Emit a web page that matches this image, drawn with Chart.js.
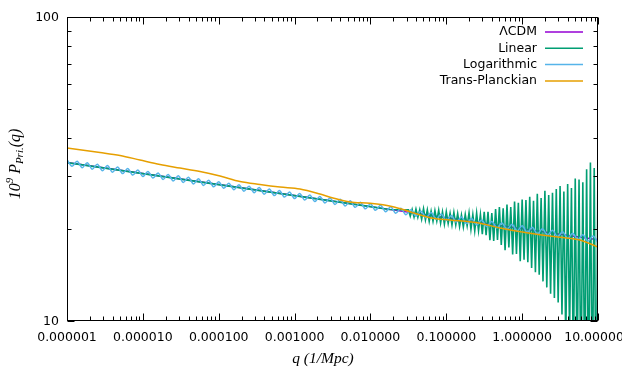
<!DOCTYPE html>
<html>
<head>
<meta charset="utf-8">
<script src="https://cdn.jsdelivr.net/npm/chart.js@4.4.0/dist/chart.umd.min.js"></script>
<style>
  html, body { margin: 0; padding: 0; background: #fff; }
  canvas { display: block; }
</style>
</head>
<body>
<canvas id="power" width="622" height="374"></canvas>
<script>
// series names / colours (gnuplot default palette)
const seriesNames = ['ΛCDM', 'Linear', 'Logarithmic', 'Trans-Planckian'];
const seriesColors = ['#9400d3', '#009e73', '#56b4e9', '#e69f00'];

// q is stored as log10(q), values are 10^9 P(q)
const lcdmQExp = [-6, -5, -4, -3, -2, -1, 0, 1];
const lcdmValues = [33.20, 30.54, 28.10, 25.85, 23.78, 21.87, 20.12, 18.51];

const linearQExp = [
  -6, -5, -4, -3, -2, -1.75,
  -1.500, -1.475, -1.450, -1.425, -1.400, -1.375, -1.350, -1.325, -1.300, -1.275,
  -1.250, -1.225, -1.200, -1.175, -1.150, -1.125, -1.100, -1.075, -1.050, -1.025,
  -1.000, -0.975, -0.950, -0.925, -0.900, -0.875, -0.850, -0.825, -0.800, -0.775,
  -0.750, -0.725, -0.700, -0.675, -0.650, -0.625, -0.600, -0.575, -0.550, -0.525,
  -0.500, -0.475, -0.450, -0.425, -0.400, -0.375, -0.350, -0.325, -0.300, -0.275,
  -0.250, -0.225, -0.200, -0.175, -0.150, -0.125, -0.100, -0.075, -0.050, -0.025,
  0.000, 0.025, 0.050, 0.075, 0.100, 0.125, 0.150, 0.175, 0.200, 0.225,
  0.250, 0.275, 0.300, 0.325, 0.350, 0.375, 0.400, 0.425, 0.450, 0.475,
  0.500, 0.525, 0.550, 0.575, 0.600, 0.625, 0.650, 0.675, 0.700, 0.725,
  0.750, 0.775, 0.800, 0.825, 0.850, 0.875, 0.900, 0.925, 0.950, 0.975,
  1.000
];
const linearValues = [
  33.20, 30.54, 28.10, 25.85, 23.78, 23.27,
  23.20, 22.13, 23.28, 21.97, 23.35, 21.92, 23.23, 21.61, 23.42, 21.50,
  23.22, 21.27, 22.97, 21.27, 23.08, 21.33, 23.14, 21.00, 22.88, 20.81,
  22.90, 20.94, 22.64, 20.69, 22.76, 20.71, 22.56, 20.46, 22.31, 20.38,
  22.43, 20.56, 22.71, 20.03, 22.40, 19.81, 22.65, 19.83, 22.41, 19.31,
  22.86, 19.15, 22.85, 18.44, 22.66, 18.32, 23.37, 18.49, 23.71, 17.80,
  23.50, 17.11, 24.14, 17.47, 23.71, 16.56, 24.74, 16.63, 24.47, 15.72,
  25.10, 15.92, 24.98, 15.60, 25.60, 14.93, 24.85, 14.47, 26.20, 14.20,
  25.40, 13.50, 26.80, 12.90, 25.96, 12.30, 26.40, 11.90, 27.20, 11.50,
  27.80, 10.50, 26.66, 8.50, 28.20, 9.00, 27.40, 7.00, 29.42, 6.50,
  29.19, 5.50, 28.60, 6.00, 31.56, 5.00, 33.23, 5.00, 31.86, 4.00,
  34.80
];

const logQExp = [
  -6.000, -5.933, -5.867, -5.800, -5.733, -5.667, -5.600, -5.533, -5.467, -5.400, -5.333, -5.267, -5.200, -5.133, -5.067,
  -5.000, -4.933, -4.867, -4.800, -4.733, -4.667, -4.600, -4.533, -4.467, -4.400, -4.333, -4.267, -4.200, -4.133, -4.067,
  -4.000, -3.933, -3.867, -3.800, -3.733, -3.667, -3.600, -3.533, -3.467, -3.400, -3.333, -3.267, -3.200, -3.133, -3.067,
  -3.000, -2.933, -2.867, -2.800, -2.733, -2.667, -2.600, -2.533, -2.467, -2.400, -2.333, -2.267, -2.200, -2.133, -2.067,
  -2.000, -1.933, -1.867, -1.800, -1.733, -1.667, -1.600, -1.533, -1.467, -1.400, -1.333, -1.267, -1.200, -1.133, -1.067,
  -1.000, -0.933, -0.867, -0.800, -0.733, -0.667, -0.600, -0.533, -0.467, -0.400, -0.333, -0.267, -0.200, -0.133, -0.067,
  0.000, 0.067, 0.133, 0.200, 0.267, 0.333, 0.400, 0.467, 0.533, 0.600, 0.667, 0.733, 0.800, 0.867, 0.933,
  1.000
];
const logValues = [
  33.93, 32.29, 33.55, 31.93, 33.18, 31.58, 32.81, 31.23, 32.45, 30.88, 32.09, 30.54, 31.73, 30.20, 31.38,
  29.87, 31.04, 29.54, 30.69, 29.21, 30.35, 28.89, 30.02, 28.57, 29.68, 28.25, 29.35, 27.93, 29.03, 27.63,
  28.72, 27.33, 28.40, 27.03, 28.08, 26.73, 27.77, 26.43, 27.47, 26.14, 27.16, 25.85, 26.86, 25.56, 26.56,
  25.28, 26.27, 25.00, 25.98, 24.72, 25.69, 24.45, 25.41, 24.18, 25.13, 23.91, 24.85, 23.65, 24.57, 23.38,
  24.30, 23.13, 24.03, 22.87, 23.77, 22.62, 23.50, 22.37, 23.24, 22.12, 22.98, 21.87, 22.73, 21.63, 22.48,
  21.39, 22.23, 21.15, 21.98, 20.92, 21.74, 20.68, 21.50, 20.45, 21.26, 20.23, 21.02, 20.01, 20.79, 19.79,
  20.56, 19.57, 20.33, 19.35, 20.11, 19.14, 19.89, 18.92, 19.66, 18.71, 19.45, 18.51, 19.23, 18.30, 19.02,
  18.10
];

const transQExp = [-6, -5.565, -5.301, -5.038, -4.774, -4.51, -4.247, -3.983, -3.719, -3.456, -3.192,
  -2.929, -2.665, -2.494, -2.27, -2.006, -1.703, -1.479, -1.175, -0.951, -0.556, -0.292, 0.103, 0.499, 0.762, 1];
const transValues = [37.07, 35.84, 35.03, 33.85, 32.72, 31.86, 31.03, 29.99, 28.76, 28.12, 27.59,
  27.19, 26.17, 25.39, 24.62, 24.39, 23.77, 22.88, 21.77, 21.49, 20.96, 20.23, 19.43, 18.85, 18.47, 17.52];

// axis ticks
const xTickValues = [1e-6, 1e-5, 1e-4, 1e-3, 1e-2, 1e-1, 1, 10];
const xTickLabels = ['0.000001', '0.000010', '0.000100', '0.001000', '0.010000', '0.100000', '1.000000', '10.000000'];
const yTickValues = [10, 100];
const yTickLabels = ['10', '100'];

const sansFont = '12.5px "DejaVu Sans", sans-serif';

function points(qExp, vals) {
  return qExp.map((e, i) => ({ x: Math.pow(10, e), y: vals[i] }));
}

// gnuplot-like frame: box, inward ticks on all sides, labels, legend, titles
const framePlugin = {
  id: 'frame',
  afterDatasetsDraw(chart) {
    const { ctx, chartArea: a, scales: { x, y } } = chart;
    const L = Math.round(a.left) + 0.5, R = Math.round(a.right) - 0.5;
    const T = Math.round(a.top) + 0.5, B = Math.round(a.bottom) - 0.5;
    ctx.save();
    ctx.strokeStyle = '#000';
    ctx.lineWidth = 1;
    ctx.strokeRect(L, T, R - L, B - T);

    ctx.beginPath();
    for (let d = -6; d <= 1; d++) {
      for (let m = 1; m <= 9; m++) {
        const v = m * Math.pow(10, d);
        if (v > 10 * 1.0001) break;
        const px = Math.round(x.getPixelForValue(v)) + 0.5;
        const len = m === 1 ? 7 : 4;
        ctx.moveTo(px, B); ctx.lineTo(px, B - len);
        ctx.moveTo(px, T); ctx.lineTo(px, T + len);
      }
    }
    for (let m = 1; m <= 10; m++) {
      const v = m * 10;
      const py = Math.round(y.getPixelForValue(v)) + 0.5;
      const len = (m === 1 || m === 10) ? 7 : 4;
      ctx.moveTo(L, py); ctx.lineTo(L + len, py);
      ctx.moveTo(R, py); ctx.lineTo(R - len, py);
    }
    ctx.stroke();

    ctx.fillStyle = '#000';
    ctx.font = sansFont;
    ctx.textAlign = 'center';
    ctx.textBaseline = 'middle';
    xTickValues.forEach((v, i) => {
      ctx.fillText(xTickLabels[i], x.getPixelForValue(v), a.bottom + 17);
    });
    ctx.textAlign = 'right';
    yTickValues.forEach((v, i) => {
      ctx.fillText(yTickLabels[i], a.left - 8, y.getPixelForValue(v) + 1);
    });

    // legend, top right inside the box
    chart.data.datasets.forEach((ds) => {
      const i = seriesNames.indexOf(ds.label);
      const ly = 32 + i * 16.3;
      ctx.textAlign = 'right';
      ctx.fillStyle = '#000';
      ctx.fillText(ds.label, 537, ly);
      ctx.strokeStyle = ds.borderColor;
      ctx.lineWidth = 1.5;
      ctx.beginPath();
      ctx.moveTo(545, ly); ctx.lineTo(583, ly);
      ctx.stroke();
    });

    // x title
    ctx.fillStyle = '#000';
    ctx.font = 'italic 15.5px "Liberation Serif", serif';
    ctx.textAlign = 'center';
    ctx.fillText('q (1/Mpc)', 323, 359);

    // y title: 10^9 P_{Pri.}(q)
    const parts = [
      { t: '10', size: 16, dy: 0 },
      { t: '9', size: 11, dy: -6 },
      { t: ' P', size: 16, dy: 0 },
      { t: 'Pri.', size: 11, dy: 4 },
      { t: '(q)', size: 16, dy: 0 }
    ];
    let total = 0;
    parts.forEach(p => {
      ctx.font = 'italic ' + p.size + 'px "Liberation Serif", serif';
      p.w = ctx.measureText(p.t).width;
      total += p.w;
    });
    ctx.translate(16, 164);
    ctx.rotate(-Math.PI / 2);
    ctx.textAlign = 'left';
    let cx = -total / 2;
    parts.forEach(p => {
      ctx.font = 'italic ' + p.size + 'px "Liberation Serif", serif';
      ctx.fillText(p.t, cx, p.dy);
      cx += p.w;
    });
    ctx.restore();
  }
};

new Chart(document.getElementById('power'), {
  type: 'line',
  data: {
    datasets: [
      {
        label: seriesNames[0],
        data: points(lcdmQExp, lcdmValues),
        borderColor: seriesColors[0],
        borderWidth: 1.5,
        tension: 0,
        order: 3
      },
      {
        label: seriesNames[1],
        data: points(linearQExp, linearValues),
        borderColor: seriesColors[1],
        borderWidth: 1.6,
        tension: 0,
        order: 2
      },
      {
        label: seriesNames[2],
        data: points(logQExp, logValues),
        borderColor: seriesColors[2],
        borderWidth: 1.5,
        cubicInterpolationMode: 'monotone',
        order: 1
      },
      {
        label: seriesNames[3],
        data: points(transQExp, transValues),
        borderColor: seriesColors[3],
        borderWidth: 1.5,
        cubicInterpolationMode: 'monotone',
        order: 0
      }
    ]
  },
  options: {
    responsive: false,
    animation: false,
    events: [],
    elements: { point: { radius: 0 } },
    layout: { padding: { left: 67, right: 24, top: 17, bottom: 53 } },
    plugins: {
      legend: { display: false },
      tooltip: { enabled: false }
    },
    scales: {
      x: {
        type: 'logarithmic',
        min: 1e-6,
        max: 10,
        grid: { display: false },
        border: { display: false },
        ticks: { display: false },
        afterFit: s => { s.height = 0; }
      },
      y: {
        type: 'logarithmic',
        min: 10,
        max: 100,
        grid: { display: false },
        border: { display: false },
        ticks: { display: false },
        afterFit: s => { s.width = 0; }
      }
    }
  },
  plugins: [framePlugin]
});
</script>
</body>
</html>
